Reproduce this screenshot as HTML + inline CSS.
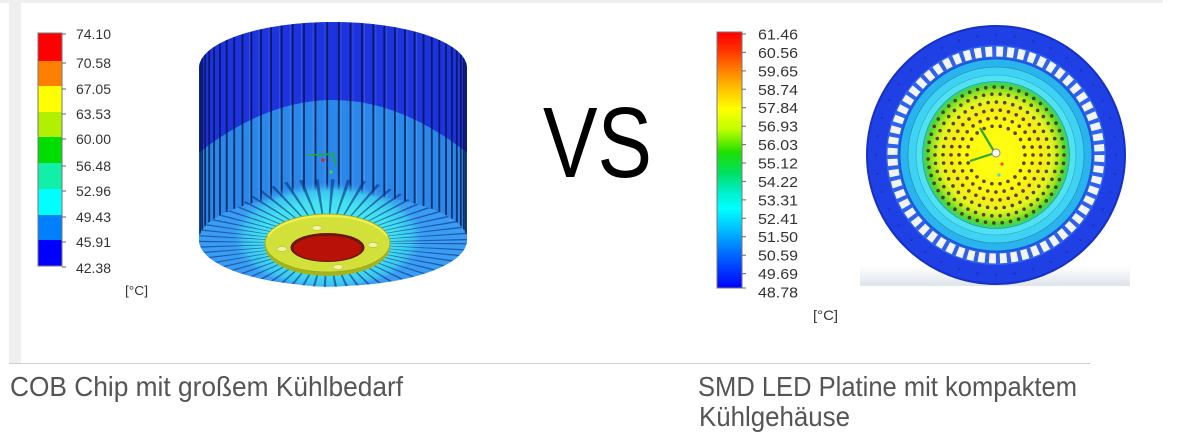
<!DOCTYPE html>
<html><head><meta charset="utf-8"><style>
html,body{margin:0;padding:0;background:#fff;}
body{width:1200px;height:444px;overflow:hidden;}
svg{display:block;}
</style></head><body>
<svg width="1200" height="444" viewBox="0 0 1200 444" xmlns="http://www.w3.org/2000/svg" font-family="Liberation Sans, Arial, sans-serif">
<defs>
  <linearGradient id="rg" x1="0" y1="0" x2="0" y2="1">
    <stop offset="0" stop-color="#ff0000"/>
    <stop offset="0.07" stop-color="#ff3000"/>
    <stop offset="0.15" stop-color="#ff8000"/>
    <stop offset="0.22" stop-color="#ffc000"/>
    <stop offset="0.30" stop-color="#ffff00"/>
    <stop offset="0.38" stop-color="#c0ff00"/>
    <stop offset="0.47" stop-color="#20e000"/>
    <stop offset="0.55" stop-color="#00e060"/>
    <stop offset="0.63" stop-color="#00f0d0"/>
    <stop offset="0.69" stop-color="#00ffff"/>
    <stop offset="0.77" stop-color="#00c0ff"/>
    <stop offset="0.86" stop-color="#0070ff"/>
    <stop offset="0.94" stop-color="#0030ff"/>
    <stop offset="1" stop-color="#0000ff"/>
  </linearGradient>
  <radialGradient id="inner" cx="0.5" cy="0.5" r="0.5">
    <stop offset="0" stop-color="#ffff10"/>
    <stop offset="0.45" stop-color="#fcf810"/>
    <stop offset="0.62" stop-color="#f6ec18"/>
    <stop offset="0.76" stop-color="#e4f420"/>
    <stop offset="0.86" stop-color="#a8e820"/>
    <stop offset="0.94" stop-color="#50d830"/>
    <stop offset="1" stop-color="#38d080"/>
  </radialGradient>
  <radialGradient id="cyan" cx="0.5" cy="0.55" r="0.5">
    <stop offset="0" stop-color="#50eef0"/>
    <stop offset="0.65" stop-color="#44e2f0"/>
    <stop offset="0.85" stop-color="#3cc4f0"/>
    <stop offset="1" stop-color="#3a9cf2" stop-opacity="0"/>
  </radialGradient>
  <linearGradient id="shadow" x1="0" y1="0" x2="0" y2="1">
    <stop offset="0" stop-color="#ffffff"/>
    <stop offset="1" stop-color="#dde4ec"/>
  </linearGradient>
  <clipPath id="sil">
    <path d="M199,68 A134,46 0 0 1 467,68 L467,240 A134,46 0 0 1 199,240 Z"/>
  </clipPath>
  <clipPath id="bot">
    <ellipse cx="333" cy="240" rx="134" ry="46"/>
    <ellipse cx="328" cy="232" rx="100" ry="55"/>
  </clipPath>
</defs>

<!-- frame -->
<rect x="0" y="0" width="1163" height="3" fill="#efefef"/>
<rect x="9" y="0" width="12" height="363" fill="#efefef"/>
<rect x="9" y="363" width="1081" height="1" fill="#cfcfcf"/>

<!-- left legend -->
<g>
  <rect x="38" y="33" width="24" height="28" fill="#ff0000"/>
  <rect x="38" y="61" width="24" height="25" fill="#ff8000"/>
  <rect x="38" y="86" width="24" height="26" fill="#ffff00"/>
  <rect x="38" y="112" width="24" height="25" fill="#b0f000"/>
  <rect x="38" y="137" width="24" height="26" fill="#00dd00"/>
  <rect x="38" y="163" width="24" height="26" fill="#10f0a8"/>
  <rect x="38" y="189" width="24" height="26" fill="#00ffff"/>
  <rect x="38" y="215" width="24" height="25" fill="#0080ff"/>
  <rect x="38" y="240" width="24" height="26" fill="#0000ff"/>
  <rect x="38" y="33" width="24" height="233" fill="none" stroke="#777" stroke-width="1"/>
  <path d="M62,34h4M62,63h4M62,89h4M62,114h4M62,139h4M62,166h4M62,191h4M62,217h4M62,242h4M62,267h4" stroke="#666" stroke-width="1"/>
  <g font-size="14" fill="#333">
    <text x="76" y="39" textLength="35" lengthAdjust="spacingAndGlyphs">74.10</text>
    <text x="76" y="68" textLength="35" lengthAdjust="spacingAndGlyphs">70.58</text>
    <text x="76" y="94" textLength="35" lengthAdjust="spacingAndGlyphs">67.05</text>
    <text x="76" y="119" textLength="35" lengthAdjust="spacingAndGlyphs">63.53</text>
    <text x="76" y="144" textLength="35" lengthAdjust="spacingAndGlyphs">60.00</text>
    <text x="76" y="171" textLength="35" lengthAdjust="spacingAndGlyphs">56.48</text>
    <text x="76" y="196" textLength="35" lengthAdjust="spacingAndGlyphs">52.96</text>
    <text x="76" y="222" textLength="35" lengthAdjust="spacingAndGlyphs">49.43</text>
    <text x="76" y="247" textLength="35" lengthAdjust="spacingAndGlyphs">45.91</text>
    <text x="76" y="273" textLength="35" lengthAdjust="spacingAndGlyphs">42.38</text>
    <text x="125" y="295" font-size="13" textLength="23" lengthAdjust="spacingAndGlyphs">[°C]</text>
  </g>
</g>

<!-- left heatsink -->
<g>
  <path d="M199,68 A134,46 0 0 1 467,68 L467,240 A134,46 0 0 1 199,240 Z" fill="#2a88ea"/>
  <g clip-path="url(#sil)">
    <path d="M190,160 Q333,40 476,160 L476,0 L190,0 Z" fill="#1c33df"/>
    <path d="M338.8,22V194M350.5,22.4V194.4M362,23.1V195.1M373.3,24.1V196.1M384.3,25.5V197.5M394.9,27.2V199.2M405,29.2V201.2M414.6,31.5V203.5M423.5,34.1V206.1M431.8,36.9V208.9M439.3,40V212M446,43.3V215.3M451.9,46.7V218.7M456.8,50.4V222.4M460.8,54.2V226.2M463.8,58.1V230.1M465.8,62V234
             M327.2,22V194M315.5,22.4V194.4M304,23.1V195.1M292.7,24.1V196.1M281.7,25.5V197.5M271.1,27.2V199.2M261,29.2V201.2M251.4,31.5V203.5M242.5,34.1V206.1M234.2,36.9V208.9M226.7,40V212M220,43.3V215.3M214.1,46.7V218.7M209.2,50.4V222.4M205.2,54.2V226.2M202.2,58.1V230.1M200.2,62V234"
          stroke="#06103a" stroke-width="1.8" stroke-opacity="0.75" fill="none"/>
    <path d="M341,22V194M353,22.4V194.4M364.5,23.1V195.1M375.8,24.1V196.1M386.6,25.5V197.5M397,27.2V199.2M407,29.2V201.2M416.5,31.5V203.5M325,22V194M313,22.4V194.4M301.5,23.1V195.1M290.3,24.1V196.1M279.4,25.5V197.5M269,27.2V199.2M259,29.2V201.2M249.6,31.5V203.5"
          stroke="#ffffff" stroke-width="1" stroke-opacity="0.12" fill="none"/>
  </g>
  <ellipse cx="333" cy="240" rx="134" ry="46" fill="#3a9cf2"/>
  <ellipse cx="328" cy="232" rx="100" ry="55" fill="url(#cyan)"/>
  <g clip-path="url(#bot)">
    <g transform="translate(327,243) scale(1,0.42)">
      <circle r="76" fill="none" stroke="#0c3080" stroke-opacity="0.6" stroke-width="152" stroke-dasharray="1.8 6.2"/>
    </g>
  </g>
  <path d="M307,155 L335,154 M333,154 L336,166" stroke="#20b020" stroke-width="1.5" fill="none"/>
  <circle cx="323" cy="160" r="1.8" fill="#e02020"/>
  <circle cx="331" cy="172" r="1.6" fill="#40d040"/>
  <!-- disk -->
  <ellipse cx="327.5" cy="246.5" rx="62.5" ry="29.5" fill="#a4b41c"/>
  <ellipse cx="327.5" cy="243" rx="62.5" ry="29" fill="#d2e03a" stroke="#98a820" stroke-width="0.8"/>
  <path d="M268,236 A62.5,29 0 0 1 387,236" fill="none" stroke="#f0f050" stroke-width="2"/>
  <ellipse cx="327.5" cy="247.5" rx="37" ry="14.5" fill="#6a1810"/>
  <ellipse cx="327.5" cy="248.3" rx="34" ry="12.5" fill="#b81208"/>
  <g fill="#f2f2a0" stroke="#b0b030" stroke-width="0.5">
    <ellipse cx="317" cy="228" rx="5" ry="2.5"/>
    <ellipse cx="282" cy="249" rx="5" ry="2.5"/>
    <ellipse cx="373" cy="245" rx="5" ry="2.5"/>
    <ellipse cx="338" cy="267" rx="5" ry="2.5"/>
  </g>
</g>

<!-- VS -->
<text x="543" y="177" font-size="100" fill="#000" textLength="109" lengthAdjust="spacingAndGlyphs">VS</text>

<!-- right legend -->
<g>
  <rect x="717" y="32" width="25" height="256" fill="url(#rg)" stroke="#777" stroke-width="1"/>
  <path d="M742,34h4M742,52.4h4M742,70.9h4M742,89.3h4M742,107.7h4M742,126.2h4M742,144.6h4M742,163h4M742,181.4h4M742,199.9h4M742,218.3h4M742,236.7h4M742,255.2h4M742,273.6h4M742,288h4" stroke="#666" stroke-width="1"/>
  <g font-size="15" fill="#333">
    <text x="758" y="39.5" textLength="40" lengthAdjust="spacingAndGlyphs">61.46</text>
    <text x="758" y="57.9" textLength="40" lengthAdjust="spacingAndGlyphs">60.56</text>
    <text x="758" y="76.4" textLength="40" lengthAdjust="spacingAndGlyphs">59.65</text>
    <text x="758" y="94.8" textLength="40" lengthAdjust="spacingAndGlyphs">58.74</text>
    <text x="758" y="113.2" textLength="40" lengthAdjust="spacingAndGlyphs">57.84</text>
    <text x="758" y="131.7" textLength="40" lengthAdjust="spacingAndGlyphs">56.93</text>
    <text x="758" y="150.1" textLength="40" lengthAdjust="spacingAndGlyphs">56.03</text>
    <text x="758" y="168.5" textLength="40" lengthAdjust="spacingAndGlyphs">55.12</text>
    <text x="758" y="186.9" textLength="40" lengthAdjust="spacingAndGlyphs">54.22</text>
    <text x="758" y="205.4" textLength="40" lengthAdjust="spacingAndGlyphs">53.31</text>
    <text x="758" y="223.8" textLength="40" lengthAdjust="spacingAndGlyphs">52.41</text>
    <text x="758" y="242.2" textLength="40" lengthAdjust="spacingAndGlyphs">51.50</text>
    <text x="758" y="260.7" textLength="40" lengthAdjust="spacingAndGlyphs">50.59</text>
    <text x="758" y="279.1" textLength="40" lengthAdjust="spacingAndGlyphs">49.69</text>
    <text x="758" y="297.5" textLength="40" lengthAdjust="spacingAndGlyphs">48.78</text>
    <text x="813" y="320" font-size="14" textLength="25" lengthAdjust="spacingAndGlyphs">[°C]</text>
  </g>
</g>

<!-- right disk -->
<g>
  <rect x="860" y="266" width="270" height="20" fill="url(#shadow)"/>
  <circle cx="996" cy="155" r="129" fill="#1e40e4" stroke="#1630c4" stroke-width="2"/>
  <circle cx="996" cy="155" r="120" fill="none" stroke="#1428a8" stroke-opacity="0.5" stroke-width="2.5" stroke-linecap="round" stroke-dasharray="0 18.85"/>
  <circle cx="996" cy="155" r="110" fill="#2f62ea"/>
  <circle cx="996" cy="155" r="103.5" fill="none" stroke="#f2f4f7" stroke-width="10" stroke-dasharray="6.8 4.04"/>
  <circle cx="996" cy="155" r="97.5" fill="#1a5ad8"/>
  <circle cx="996" cy="155" r="95.5" fill="#2ab4ee"/>
  <circle cx="996" cy="155" r="88" fill="#3ed2f4" stroke="#2a8cb0" stroke-width="0.7"/>
  <circle cx="996" cy="155" r="80" fill="#4ee2f2" stroke="#3aa0b8" stroke-width="0.6"/>
  <circle cx="996" cy="155" r="73.5" fill="url(#inner)" stroke="#2aa0a0" stroke-width="0.8"/>
  <g fill="none" stroke="#4a3010" stroke-width="3.6" stroke-linecap="round" stroke-opacity="0.9">
    <circle cx="996" cy="155" r="29" stroke-dasharray="0 8.28"/>
    <circle cx="996" cy="155" r="37" stroke-dasharray="0 8.30"/>
    <circle cx="996" cy="155" r="45" stroke-dasharray="0 8.31"/>
    <circle cx="996" cy="155" r="53" stroke-dasharray="0 8.33"/>
    <circle cx="996" cy="155" r="61" stroke-dasharray="0 8.33"/>
    <circle cx="996" cy="155" r="68" stroke-dasharray="0 8.38"/>
  </g>
  <path d="M995,153 L980,128 M995,153 L970,161" stroke="#30a830" stroke-width="2.2" fill="none"/>
  <circle cx="996" cy="153" r="4" fill="#fff" stroke="#888" stroke-width="1"/>
  <circle cx="1002" cy="164" r="1.6" fill="#f05020"/>
  <circle cx="999" cy="175" r="1.6" fill="#40e0c0"/>
</g>

<!-- captions -->
<g fill="#555" font-size="28">
  <text x="10" y="396" textLength="393" lengthAdjust="spacingAndGlyphs">COB Chip mit großem Kühlbedarf</text>
  <text x="698" y="396" textLength="379" lengthAdjust="spacingAndGlyphs">SMD LED Platine mit kompaktem</text>
  <text x="699" y="426" textLength="151" lengthAdjust="spacingAndGlyphs">Kühlgehäuse</text>
</g>
</svg>
</body></html>
